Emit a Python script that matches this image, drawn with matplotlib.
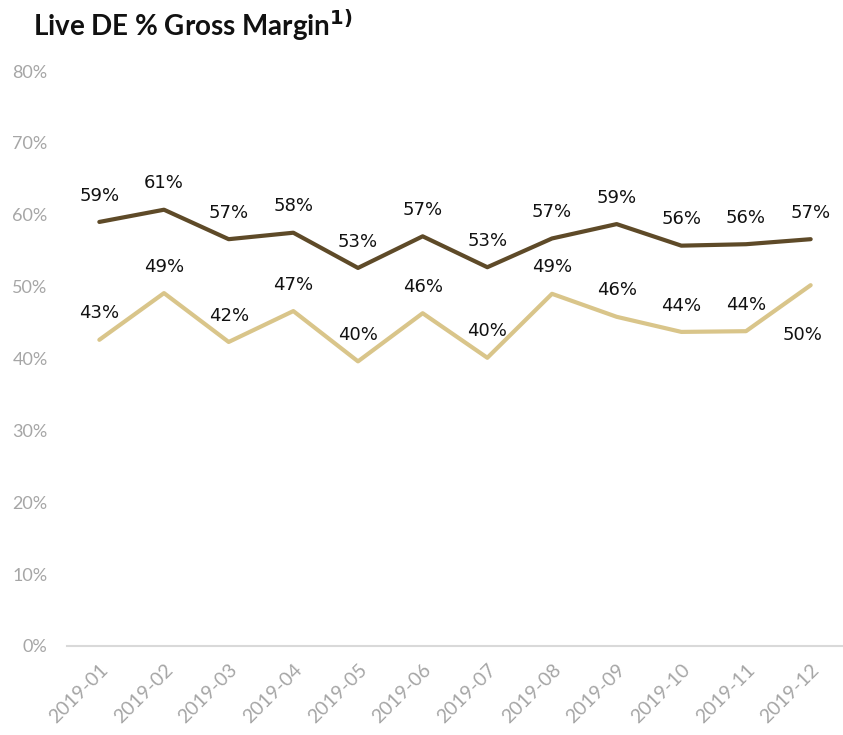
import matplotlib
matplotlib.use("Agg")
import matplotlib.pyplot as plt

months = ["2019-01", "2019-02", "2019-03", "2019-04", "2019-05", "2019-06",
          "2019-07", "2019-08", "2019-09", "2019-10", "2019-11", "2019-12"]
dark_vals = [59.0, 60.7, 56.6, 57.5, 52.6, 57.0, 52.7, 56.7, 58.7, 55.7, 55.9, 56.6]
light_vals = [42.6, 49.1, 42.3, 46.6, 39.6, 46.3, 40.1, 49.0, 45.8, 43.7, 43.8, 50.2]
y_ticks = [0, 10, 20, 30, 40, 50, 60, 70, 80]

dark_color = "#5E4A28"
light_color = "#D9C58A"
tick_color = "#A6A6A6"

fig = plt.figure(figsize=(8.43, 7.35), dpi=100)
ax = fig.add_axes([67/843, 89/735, 776/843, 575/735])

x = list(range(len(months)))
ax.plot(x, dark_vals, color=dark_color, lw=3.0, solid_capstyle="round", solid_joinstyle="round")
ax.plot(x, light_vals, color=light_color, lw=3.0, solid_capstyle="round", solid_joinstyle="round")

lab_font = dict(family="DejaVu Sans", fontsize=13, color="#111111")
for i, v in enumerate(dark_vals):
    ax.annotate(f"{round(v):d}%", (i, v), xytext=(0, 19), textcoords="offset points",
                ha="center", va="center", **lab_font)
for i, v in enumerate(light_vals):
    off = 19 if i < len(light_vals) - 1 else -36
    ax.annotate(f"{round(v):d}%", (i, v), xytext=(-6 if off < 0 else 0, off), textcoords="offset points",
                ha="center", va="center", **lab_font)

ax.set_xlim(-0.5, 11.5)
ax.set_ylim(0, 80)
ax.set_yticks(y_ticks)
ax.set_yticklabels([f"{t}%" for t in y_ticks], family="Lato", fontsize=13, color=tick_color)
ax.set_xticks(x)
ax.set_xticklabels(months, rotation=45, ha="right", rotation_mode="anchor",
                   family="Lato", fontsize=14, color=tick_color)
ax.tick_params(axis="both", length=0)
ax.tick_params(axis="y", pad=14)
ax.tick_params(axis="x", pad=11)
for s in ["top", "right", "left"]:
    ax.spines[s].set_visible(False)
ax.spines["bottom"].set_color("#D9D9D9")
ax.spines["bottom"].set_linewidth(1.5)

fig.text(33/843, 1 - 25/735, r"Live DE % Gross Margin$^{\mathbf{1)}}$", family="Lato", fontweight="bold",
         fontsize=20, va="center", ha="left", color="#111111")

fig.savefig("out.png", dpi=100)
